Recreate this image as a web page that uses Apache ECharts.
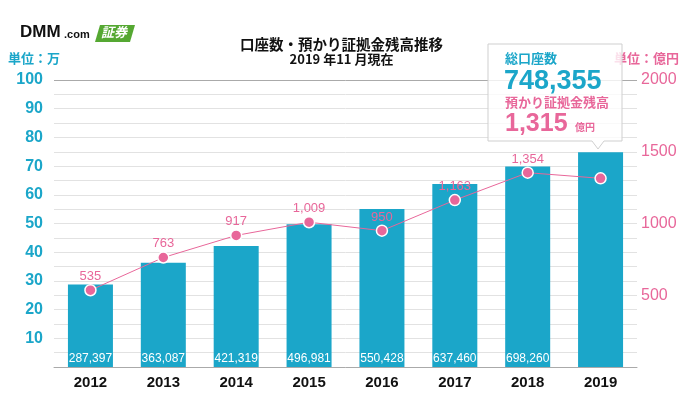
<!DOCTYPE html>
<html><head><meta charset="utf-8">
<script src="https://cdn.jsdelivr.net/npm/echarts@6/dist/echarts.min.js"></script>
<style>html,body{margin:0;padding:0;background:#fff}#c{width:683px;height:400px}</style>
</head><body><div id="c"></div>
<script>
const years = ['2012','2013','2014','2015','2016','2017','2018','2019'];
const accounts = [287397, 363087, 421319, 496981, 550428, 637460, 698260, 748355];
const margin = [535, 763, 917, 1009, 950, 1163, 1354, 1315];
const leftTicks = [10,20,30,40,50,60,70,80,90,100];
const rightTicks = [500,1000,1500,2000];

const BLUE = '#1ba6c9', PINK = '#e8679a';
const JP = '"Noto Sans CJK JP","Liberation Sans",sans-serif';
const NUM = '"Liberation Sans",Arial,sans-serif';

const chart = echarts.init(document.getElementById('c'));
chart.setOption({
  animation: false,
  grid: {left: 54, right: 46, top: 80, bottom: 33},
  xAxis: {
    type: 'category', data: years,
    axisTick: {show: false},
    axisLine: {lineStyle: {color: '#aaa', width: 1}},
    axisLabel: {color: '#111', fontFamily: NUM, fontWeight: 'bold', fontSize: 15, margin: 8}
  },
  yAxis: [{
    type: 'value', min: 0, max: 100, interval: 5,
    axisLine: {show: false}, axisTick: {show: false},
    splitLine: {lineStyle: {color: '#e2e2e2', width: 1}},
    axisLabel: {color: BLUE, fontFamily: NUM, fontWeight: 'bold', fontSize: 16, margin: 11,
      formatter: v => leftTicks.includes(v) ? String(v) : ''}
  }, {
    type: 'value', min: 0, max: 2000, interval: 500,
    axisLine: {show: false}, axisTick: {show: false}, splitLine: {show: false},
    axisLabel: {color: PINK, fontFamily: NUM, fontSize: 16, margin: 4,
      formatter: v => rightTicks.includes(v) ? String(v) : ''}
  }],
  series: [{
    type: 'bar', data: accounts.map(v => v / 10000), barWidth: 45,
    itemStyle: {color: BLUE},
    label: {show: true, position: 'insideBottom', distance: 2, color: '#fff',
      fontFamily: '"Liberation Sans Narrow","Liberation Sans",sans-serif', fontSize: 12,
      formatter: p => p.dataIndex < 7 ? accounts[p.dataIndex].toLocaleString('en-US') : ''},
    markLine: {silent: true, symbol: 'none', label: {show: false},
      lineStyle: {color: '#aaa', type: 'solid', width: 1}, data: [{yAxis: 100}]},
    z: 2
  }, {
    type: 'line', yAxisIndex: 1, data: margin,
    lineStyle: {color: PINK, width: 1},
    symbol: 'circle', symbolSize: 11,
    itemStyle: {color: PINK, borderColor: '#fff', borderWidth: 1.5},
    label: {show: true, position: 'top', distance: 1, color: PINK, fontFamily: NUM, fontSize: 13,
      formatter: p => p.dataIndex < 7 ? p.value.toLocaleString('en-US') : ''},
    z: 5
  }],
  graphic: [
    // logo
    {type: 'text', left: 20, top: 24, style: {text: 'DMM', font: 'bold 17px "Liberation Sans",Arial', fill: '#111'}},
    {type: 'text', left: 64, top: 29, style: {text: '.com', font: 'bold 11px "Liberation Sans",Arial', fill: '#111'}},
    {type: 'polygon', shape: {points: [[95,42],[100,25],[135,25],[130,42]]}, style: {fill: '#55a832'}},
    {type: 'text', left: 101, top: 26, style: {text: '証券', font: 'italic bold 13px "Noto Sans CJK JP"', fill: '#fff'}},
    // titles
    {type: 'text', left: 'center', top: 37, style: {text: '口座数・預かり証拠金残高推移', font: 'bold 14.5px "Noto Sans CJK JP"', fill: '#111'}},
    {type: 'text', left: 'center', top: 53, style: {text: '2019 年11 月現在', font: 'bold 13px "Noto Sans CJK JP"', fill: '#111'}},
    {type: 'text', left: 8, top: 52, style: {text: '単位：万', font: 'bold 13px "Noto Sans CJK JP"', fill: BLUE}},
    {type: 'text', right: 4, top: 52, style: {text: '単位：億円', font: 'bold 13px "Noto Sans CJK JP"', fill: PINK}},
    // callout
    {type: 'polygon', z: 10, shape: {points: [[488,44],[622,44],[622,141],[604,141],[598,149],[592,141],[488,141]]},
      style: {fill: 'rgba(255,255,255,0.8)', stroke: '#cfcfcf', lineWidth: 1}},
    {type: 'text', z: 11, left: 505, top: 52, style: {text: '総口座数', font: 'bold 13px "Noto Sans CJK JP"', fill: BLUE}},
    {type: 'text', z: 11, left: 504, top: 68, style: {text: '748,355', font: 'bold 27px "Liberation Sans",Arial', fill: BLUE}},
    {type: 'text', z: 11, left: 505, top: 96, style: {text: '預かり証拠金残高', font: 'bold 13px "Noto Sans CJK JP"', fill: PINK}},
    {type: 'text', z: 11, left: 505, top: 112, style: {text: '1,315', font: 'bold 25px "Liberation Sans",Arial', fill: PINK}},
    {type: 'text', z: 11, left: 575, top: 122, style: {text: '億円', font: 'bold 10px "Noto Sans CJK JP"', fill: PINK}}
  ]
});
</script></body></html>
